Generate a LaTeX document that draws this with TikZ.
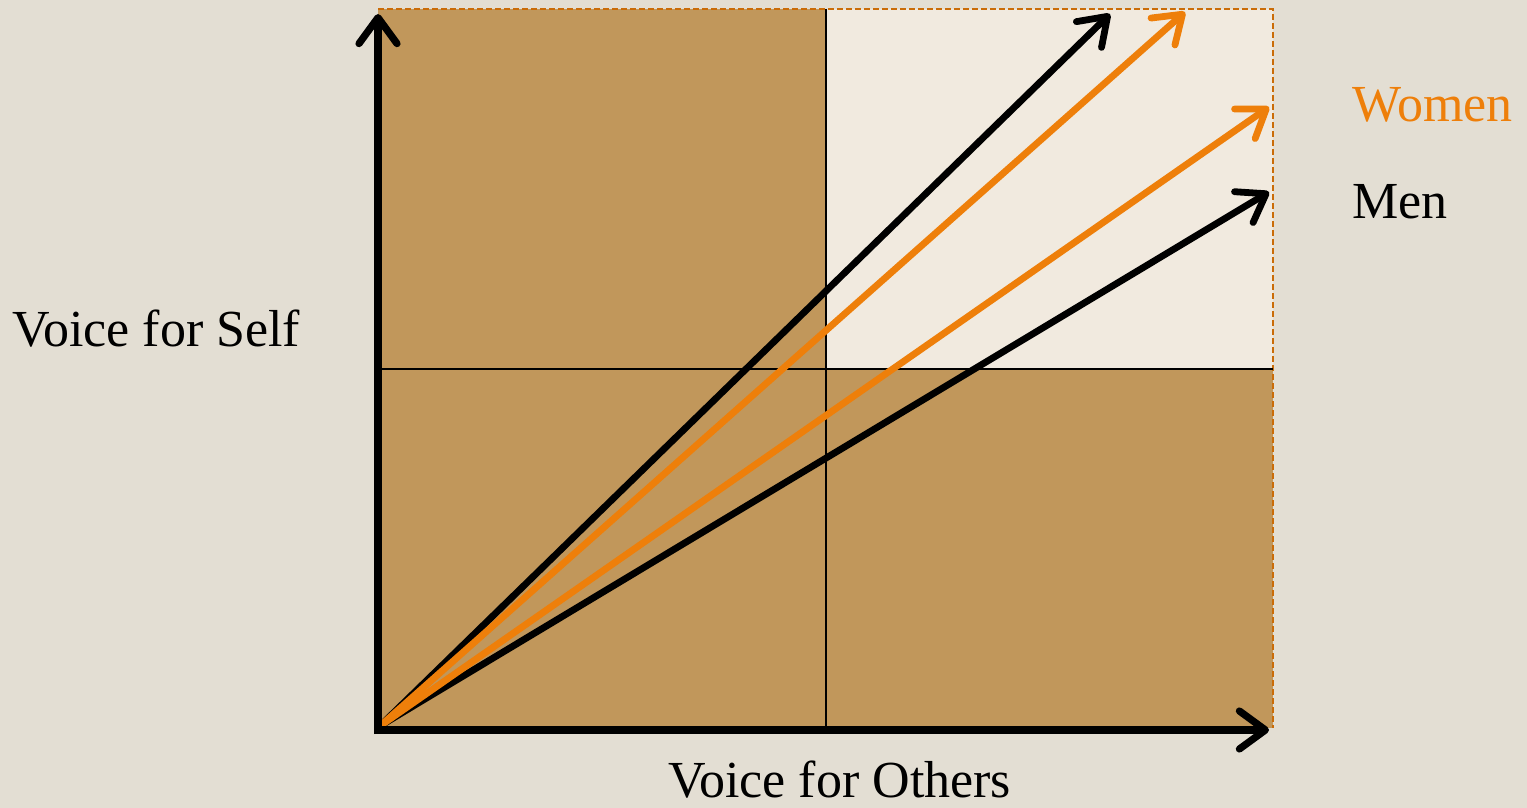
\documentclass[tikz,border=0pt]{standalone}
\usepackage{fontspec}
\setmainfont{Liberation Serif}
\usetikzlibrary{arrows.meta}
\definecolor{bg}{HTML}{E3DED3}
\definecolor{brown}{HTML}{C1975B}
\definecolor{light}{HTML}{F1EADF}
\definecolor{org}{HTML}{EE7F0A}
\tikzset{
  vec/.style={line width=3.4pt, line cap=round, -{Straight Barb[length=13pt,width=18pt,line width=3.4pt,line cap=round,round]}},
  axis/.style={line width=4pt, -{Straight Barb[length=13pt,width=19pt,line width=3.6pt,line cap=round,round]}},
  lbl/.style={font=\fontsize{26}{30}\selectfont, inner sep=0pt, text depth=0pt}
}
\begin{document}
\begin{tikzpicture}[x=0.5pt,y=-0.5pt]
\fill[bg] (0,0) rectangle (1527,808);
\useasboundingbox (0,0) rectangle (1527,808);
% quadrants
\fill[brown] (378,9) rectangle (1273,728);
\fill[light] (826,9) rectangle (1273,369);
\draw[org!85!black, line width=0.8pt, dash pattern=on 3pt off 1.5pt] (378,9) -- (1273,9) -- (1273,728);
\draw[line width=0.8pt] (826,9) -- (826,728);
\draw[line width=0.8pt] (378,369) -- (1273,369);
% origin and targets
\coordinate (o) at (380,726);
\coordinate (b1) at (1110,14);
\coordinate (o1) at (1185,12);
\coordinate (o2) at (1269,107);
\coordinate (b2) at (1269,192);
\coordinate (ytop) at (378,14);
\coordinate (xend) at (1269,730);
\coordinate (xo) at (374,730);
% vectors
\draw[vec, black] (o) -- (b1);
\draw[vec, black] (o) -- (b2);
\draw[vec, org] (o) -- (o1);
\draw[vec, org] (o) -- (o2);
% axes
\draw[axis] (378,734) -- (ytop);
\draw[axis] (xo) -- (xend);
% labels
\node[lbl, org, anchor=base west] (w) at (1352,122) {Women};
\node[lbl, anchor=base west] (m) at (1352,219) {Men};
\node[lbl, anchor=base west] (vs) at (12,346) {Voice for Self};
\node[lbl, anchor=base west] (vo) at (668,797) {Voice for Others};
\end{tikzpicture}
\end{document}
